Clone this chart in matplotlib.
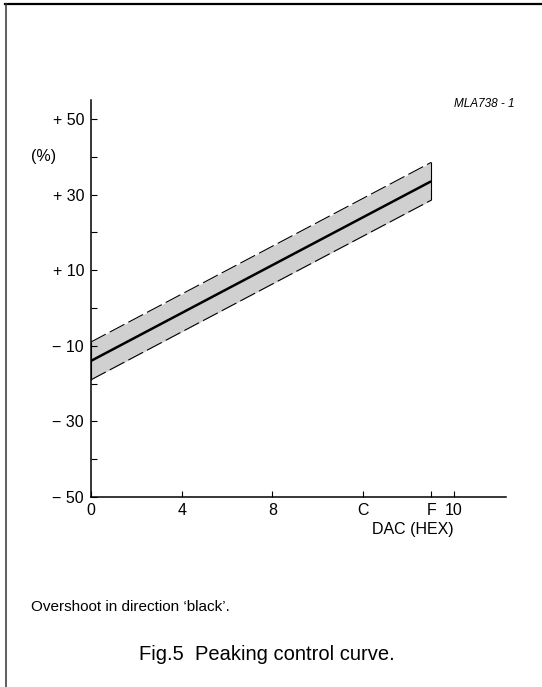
import matplotlib
matplotlib.use("Agg")
import matplotlib.pyplot as plt
from matplotlib.lines import Line2D

plt.rcParams['font.family'] = ['Liberation Sans', 'DejaVu Sans']

# Données
dac = [0, 15]
curve_mid = [-14, 33.5]
curve_upper = [-9, 38.5]
curve_lower = [-19, 28.5]

xticks = [0, 4, 8, 12, 15, 16]
xtick_labels = ['0', '4', '8', 'C', 'F', '10']
yticks = [-50, -30, -10, 10, 30, 50]
ytick_labels = ['\u2212 50', '\u2212 30', '\u2212 10', '+ 10', '+ 30', '+ 50']
yminor = [-40, -20, 0, 20, 40]

fig = plt.figure(figsize=(5.42, 6.87), dpi=100)
ax = fig.add_axes([91/542, 1 - 497/687, (506 - 91)/542, (497 - 100)/687])

# bande de tolérance
ax.fill_between(dac, curve_lower, curve_upper, color='#d0d0d0', lw=0)
ax.plot(dac, curve_upper, color='black', lw=0.8, dashes=(15, 4))
ax.plot(dac, curve_lower, color='black', lw=0.8, dashes=(15, 4))
ax.vlines(dac, curve_lower, curve_upper, color='black', lw=0.8)
ax.plot(dac, curve_mid, color='black', lw=1.8, solid_capstyle='butt')

ax.set_xlim(0, 18.3)
ax.set_ylim(-50, 55)
for s in ['top', 'right']:
    ax.spines[s].set_visible(False)
for s in ['left', 'bottom']:
    ax.spines[s].set_linewidth(1.1)

ax.set_xticks(xticks)
ax.set_xticklabels(xtick_labels)
ax.set_yticks(yticks)
ax.set_yticklabels(ytick_labels)
ax.set_yticks(yminor, minor=True)
ax.tick_params(which='both', direction='in', length=4, width=0.8, labelsize=11.5)
ax.tick_params(axis='x', pad=4)
ax.tick_params(axis='y', pad=5)

ax.text(14.2, -58.5, 'DAC (HEX)', ha='center', va='center', fontsize=11.5)
fig.text(44/542, 1 - 157/687, '(%)', ha='center', va='center', fontsize=11.5)
fig.text(515/542, 1 - 104/687, 'MLA738 - 1', ha='right', va='center',
         fontsize=8.5, style='italic')
fig.text(31/542, 1 - 607/687, 'Overshoot in direction \u2018black\u2019.',
         ha='left', va='center', fontsize=11)
fig.text(267/542, 1 - 655/687, 'Fig.5  Peaking control curve.',
         ha='center', va='center', fontsize=14.5)

# cadre de la page
fig.add_artist(Line2D([5/542, 1], [1 - 4/687, 1 - 4/687], color='black', lw=1.6,
                      transform=fig.transFigure))
fig.add_artist(Line2D([5.5/542, 5.5/542], [0, 1 - 4/687], color='#333333', lw=1.1,
                      transform=fig.transFigure))

fig.savefig('out.png', dpi=100)
